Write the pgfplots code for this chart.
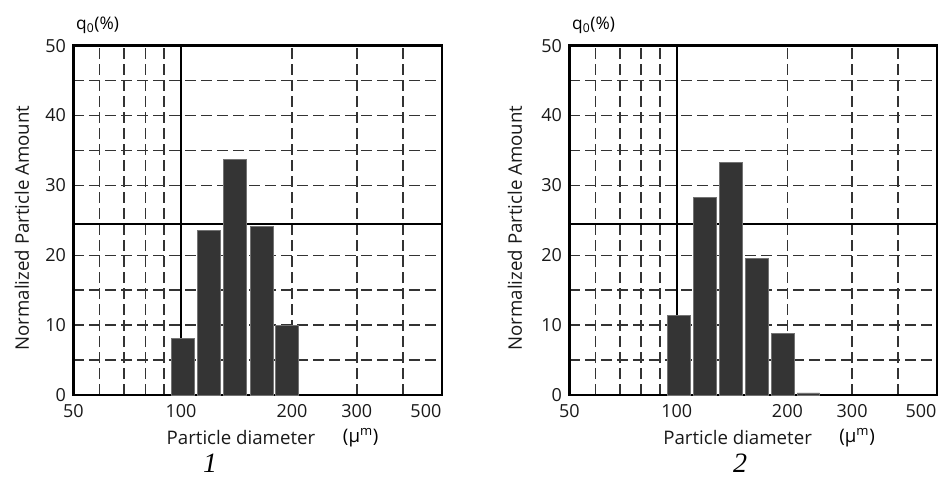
\documentclass[border=0pt]{standalone}
\usepackage{fontspec}
\setmainfont{Open Sans}
\newfontfamily\numfont{Liberation Serif}
\usepackage{pgfplots}
\pgfplotsset{compat=1.18}
\definecolor{barc}{RGB}{52,52,52}
\pgfplotsset{/pgfplots/chartpanel/.style={
  scale only axis, height=262pt,
  xmin=51, xmax=510, ymin=0, ymax=50,
  xtick={51,100,200,300}, xticklabels={50,100,200,300},
  extra x ticks={500}, extra x tick labels={500},
  extra x tick style={grid=none, xticklabel style={xshift=-9.5pt}},
  ytick={0,10,...,50},
  minor xtick={60,70,80,90,200,300,400},
  minor ytick={5,10,15,20,30,35,40,45},
  xminorgrids=true, yminorgrids=true, xmajorgrids=false, ymajorgrids=false,
  minor grid style={black!80, line width=1.15pt, dash pattern=on 8pt off 4pt},
  major tick length=0pt, minor tick length=0pt,
  axis line style={line width=1.8pt},
  tick label style={font=\fontsize{13.5}{15}\selectfont, black!90},
  xticklabel style={yshift=-3.5pt},
  yticklabel style={xshift=-2pt},
  /pgf/number format/assume math mode=true,
  clip=false,
  xlabel={Particle diameter},
  ylabel={Normalized Particle Amount},
  label style={font=\fontsize{14}{16}\selectfont, black!90},
}}
\begin{document}
\begin{tikzpicture}
\useasboundingbox (0,0) rectangle (707.25pt,359.25pt);
% Panel 1
\begin{semilogxaxis}[chartpanel, width=276.3pt, at={(55pt,63pt)}, anchor=south west,
  xlabel style={at={(axis description cs:0.455,-0.123)}, anchor=center},
  ylabel style={at={(axis description cs:-0.140,0.478)}, anchor=center}]
\draw[line width=1.5pt] (axis cs:100,0) -- (axis cs:100,50);
\draw[line width=1.5pt] (axis cs:51,24.5) -- (axis cs:510,24.5);
\addplot[ybar, bar width=17pt, fill=barc, draw=black!55, line width=0.5pt]
  coordinates {(101.3,8.1) (118.9,23.5) (140.2,33.7) (165.6,24.1) (193.7,10.0)};
\node[anchor=west, font=\fontsize{13}{15}\selectfont] at (axis description cs:-0.005,1.059) {q\textsubscript{0}(\%)};
\node[font=\fontsize{14}{16}\selectfont] at (axis description cs:0.78,-0.123) {(μ\textsuperscript{m})};
\node[font=\numfont\itshape\fontsize{21}{23}\selectfont] at (axis description cs:0.371,-0.195) {1};
\end{semilogxaxis}
% Panel 2
\begin{semilogxaxis}[chartpanel, width=275.6pt, at={(427pt,63pt)}, anchor=south west,
  xlabel style={at={(axis description cs:0.458,-0.123)}, anchor=center},
  ylabel style={at={(axis description cs:-0.148,0.478)}, anchor=center}]
\draw[line width=1.5pt] (axis cs:100,0) -- (axis cs:100,50);
\draw[line width=1.5pt] (axis cs:51,24.5) -- (axis cs:510,24.5);
\addplot[ybar, bar width=17pt, fill=barc, draw=black!55, line width=0.5pt]
  coordinates {(101.4,11.4) (119.1,28.3) (140.3,33.3) (165.4,19.5) (194.3,8.8) (228.1,0.3)};
\node[anchor=west, font=\fontsize{13}{15}\selectfont] at (axis description cs:-0.005,1.059) {q\textsubscript{0}(\%)};
\node[font=\fontsize{14}{16}\selectfont] at (axis description cs:0.783,-0.123) {(μ\textsuperscript{m})};
\node[font=\numfont\itshape\fontsize{21}{23}\selectfont] at (axis description cs:0.465,-0.195) {2};
\end{semilogxaxis}
\end{tikzpicture}
\end{document}
